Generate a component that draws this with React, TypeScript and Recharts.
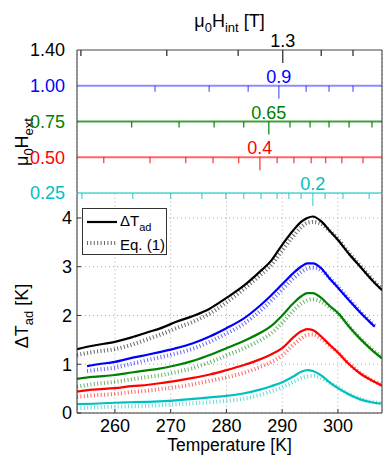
import React from "react"
import {
  ComposedChart,
  LineChart,
  Line,
  Scatter,
  XAxis,
  YAxis,
  CartesianGrid,
  ReferenceLine,
  Customized,
} from "recharts"

const FONT = "'Liberation Sans', Arial, sans-serif"

// temperature axis
const tMin = 253.2
const tMax = 307.9
const tempTicks = [260, 270, 280, 290, 300]

// top panel: external field rows (bottom to top) and internal field ticks
const hextLabels = ["0.25", "0.50", "0.75", "1.00", "1.40"]
const rowColors = ["#00bfbf", "#ff0000", "#008000", "#0000ff", "#000000"]
const hintLabels = ["0.2", "0.4", "0.65", "0.9", "1.3"]
const hintAt = [295.5, 286.0, 287.6, 289.4, 290.1]
const hintTicks025 = [254.1, 263.2, 270.0, 275.6, 279.9, 283.1, 286.2, 289.1, 291.2, 293.4, 295.5, 297.7, 300.9, 305.6]
const hintTicks050 = [258.0, 266.3, 272.7, 277.6, 282.2, 286.0, 289.1, 292.1, 295.2, 297.8, 300.7, 304.5]
const hintTicks075 = [263.0, 271.5, 277.8, 283.1, 287.6, 291.4, 295.0, 298.4, 302.0, 306.1]
const hintTicks100 = [267.2, 276.9, 283.9, 289.4, 294.3, 298.4, 302.7]
const hintTicks140 = [253.9, 269.3, 282.1, 290.1, 297.0, 302.7]
const hintRows = [hintTicks025, hintTicks050, hintTicks075, hintTicks100, hintTicks140]

// bottom panel: adiabatic temperature change
const temps = [253.2, 256, 260, 263, 266, 268, 271, 274, 277, 280, 283, 286, 288, 290, 292, 293.5, 294.5, 295.5, 297, 298.5, 300, 302, 304, 306, 307.9]
const tempsBlue = [255, 257, 260, 263, 266, 268, 271, 274, 277, 280, 283, 286, 288, 290, 292, 293.5, 294.5, 295.5, 297, 298.5, 300, 302, 304, 305.5, 306.6]

const dtBlack = [1.31, 1.38, 1.46, 1.55, 1.66, 1.73, 1.87, 1.99, 2.14, 2.36, 2.6, 2.9, 3.12, 3.45, 3.75, 3.93, 4.0, 4.03, 3.93, 3.74, 3.55, 3.26, 3.0, 2.74, 2.52]
const eqBlack = [1.19, 1.25, 1.31, 1.4, 1.52, 1.6, 1.74, 1.87, 2.04, 2.27, 2.53, 2.82, 3.03, 3.33, 3.63, 3.82, 3.9, 3.92, 3.88, 3.74, 3.57, 3.28, 3.02, 2.76, 2.54]
const dtBlue = [0.96, 1.0, 1.05, 1.13, 1.2, 1.25, 1.33, 1.43, 1.57, 1.74, 1.93, 2.2, 2.41, 2.64, 2.87, 3.01, 3.07, 3.07, 2.97, 2.76, 2.57, 2.31, 2.06, 1.89, 1.77]
const eqBlue = [0.86, 0.89, 0.93, 1.01, 1.09, 1.14, 1.22, 1.32, 1.46, 1.63, 1.82, 2.09, 2.3, 2.53, 2.76, 2.9, 2.96, 2.98, 2.93, 2.77, 2.59, 2.33, 2.08, 1.91, 1.79]
const dtGreen = [0.7, 0.74, 0.78, 0.83, 0.88, 0.91, 0.98, 1.07, 1.19, 1.33, 1.47, 1.64, 1.78, 2.0, 2.25, 2.4, 2.46, 2.46, 2.36, 2.2, 2.05, 1.77, 1.52, 1.3, 1.12]
const eqGreen = [0.54, 0.59, 0.64, 0.69, 0.74, 0.77, 0.84, 0.92, 1.04, 1.18, 1.32, 1.49, 1.63, 1.85, 2.1, 2.25, 2.31, 2.33, 2.28, 2.17, 2.04, 1.78, 1.53, 1.32, 1.14]
const dtRed = [0.44, 0.48, 0.51, 0.55, 0.58, 0.61, 0.66, 0.72, 0.79, 0.88, 0.98, 1.1, 1.2, 1.33, 1.55, 1.68, 1.72, 1.7, 1.57, 1.4, 1.24, 1.0, 0.81, 0.67, 0.56]
const eqRed = [0.33, 0.36, 0.39, 0.43, 0.46, 0.49, 0.53, 0.59, 0.66, 0.73, 0.82, 0.94, 1.04, 1.18, 1.4, 1.54, 1.6, 1.61, 1.52, 1.38, 1.24, 1.01, 0.82, 0.68, 0.57]
const dtCyan = [0.18, 0.19, 0.21, 0.22, 0.23, 0.24, 0.26, 0.29, 0.32, 0.35, 0.4, 0.48, 0.55, 0.63, 0.75, 0.85, 0.88, 0.86, 0.77, 0.63, 0.51, 0.38, 0.28, 0.22, 0.19]
const eqCyan = [0.1, 0.11, 0.13, 0.14, 0.15, 0.16, 0.18, 0.2, 0.22, 0.25, 0.29, 0.37, 0.44, 0.52, 0.64, 0.72, 0.75, 0.76, 0.72, 0.62, 0.52, 0.39, 0.29, 0.23, 0.2]

const zip = (ts: number[], vs: number[]) => ts.map((t, i) => ({ t, v: vs[i] }))

const curves = [
  { name: "cyan", color: "#00bfbf", dt: zip(temps, dtCyan), eq: zip(temps, eqCyan) },
  { name: "red", color: "#ff0000", dt: zip(temps, dtRed), eq: zip(temps, eqRed) },
  { name: "green", color: "#008000", dt: zip(temps, dtGreen), eq: zip(temps, eqGreen) },
  { name: "blue", color: "#0000ff", dt: zip(tempsBlue, dtBlue), eq: zip(tempsBlue, eqBlue) },
  { name: "black", color: "#000000", dt: zip(temps, dtBlack), eq: zip(temps, eqBlack) },
]

const rowOpacity = [0.5, 0.6, 0.75, 0.45, 0.7]
const DOT = "1 2.4"

function TopYTick(props: any) {
  const { x, y, payload } = props
  const i = payload.value
  return (
    <text x={x} y={y} dy="0.36em" textAnchor="end" fontSize={18} fontFamily={FONT} fill={rowColors[i]}>
      {hextLabels[i]}
    </text>
  )
}

function BottomYTick(props: any) {
  const { x, y, payload } = props
  return (
    <g>
      <text x={x} y={y} dy="0.36em" textAnchor="end" fontSize={18} fontFamily={FONT} fill="#000">
        {payload.value}
      </text>
      <line x1={x + 5} x2={x + 9} y1={y} y2={y} stroke="#333" />
    </g>
  )
}

function BottomXTick(props: any) {
  const { x, y, payload } = props
  return (
    <g>
      <text x={x} y={y} dy="0.62em" textAnchor="middle" fontSize={18} fontFamily={FONT} fill="#000">
        {payload.value}
      </text>
      <line x1={x} x2={x} y1={y - 8} y2={y - 12} stroke="#333" />
    </g>
  )
}

function HintTick(props: any) {
  const { cx, cy, payload } = props
  const p = payload || props
  const len = p.long ? 13 : 6
  const c = p.row === 4 ? "#333" : rowColors[p.row]
  return <line x1={cx} x2={cx} y1={cy} y2={cy + len} stroke={c} strokeOpacity={p.row === 4 ? 1 : rowOpacity[p.row] + 0.15} strokeWidth={1.3} />
}

function HintLabel(props: any) {
  const { cx, cy, payload } = props
  const p = payload || props
  return (
    <text x={cx} y={cy - 3} textAnchor="middle" fontSize={18} fontFamily={FONT} fill={rowColors[p.row]}>
      {p.label}
    </text>
  )
}

function LegendBox() {
  return (
    <g fontFamily={FONT}>
      <rect x={82.5} y={208.5} width={84} height={46} fill="#fff" stroke="#333" />
      <line x1={87} x2={117} y1={222} y2={222} stroke="#000" strokeWidth={2.2} />
      <text x={120} y={226} fontSize={15} fill="#000">
        ΔT<tspan fontSize={11} dy={5}>ad</tspan>
      </text>
      <line x1={87} x2={117} y1={243} y2={243} stroke="#000" strokeOpacity={0.6} strokeWidth={4} strokeDasharray={DOT} />
      <text x={120} y={250} fontSize={15} fill="#000">
        Eq. (1)
      </text>
    </g>
  )
}

export default function App() {
  const tickPoints = hintRows.map((ticks, row) => ticks.map((t) => ({ t, row, long: t === hintAt[row] })))
  const labelPoints = hintAt.map((t, row) => ({ t, row, label: hintLabels[row] }))

  return (
    <div style={{ position: "absolute", left: 0, top: 0, width: 390, height: 458, background: "#fff" }}>
      <div style={{ position: "absolute", left: 0, top: 0 }}>
        <ComposedChart width={390} height={212} margin={{ top: 0, right: 8, bottom: 19, left: 0 }}>
          <CartesianGrid horizontal={false} stroke="#aaa" strokeDasharray="1 3" />
          <XAxis
            orientation="top"
            type="number"
            dataKey="t"
            domain={[tMin, tMax]}
            ticks={tempTicks}
            allowDataOverflow
            tick={false}
            tickLine={false}
            axisLine={false}
            height={50}
            label={{
              content: (p: any) => {
                const vb = p.viewBox
                const cx = vb.x + vb.width / 2
                return (
                  <text x={cx} y={27} textAnchor="middle" fontSize={18} fontFamily={FONT} fill="#000">
                    μ<tspan fontSize={13} dy={5}>0</tspan>
                    <tspan dy={-5}>H</tspan>
                    <tspan fontSize={13} dy={5}>int</tspan>
                    <tspan dy={-5}> [T]</tspan>
                  </text>
                )
              },
            }}
          />
          <YAxis
            type="number"
            dataKey="row"
            domain={[0, 4]}
            ticks={[0, 1, 2, 3, 4]}
            interval={0}
            width={77}
            tickSize={4}
            tickMargin={8}
            tickLine={false}
            axisLine={{ stroke: "#333" }}
            tick={<TopYTick />}
            label={{
              content: () => (
                <text x={28} y={142} transform="rotate(-90 28 142)" textAnchor="middle" fontSize={18} fontFamily={FONT} fill="#000">
                  μ<tspan fontSize={13} dy={5}>0</tspan>
                  <tspan dy={-5}>H</tspan>
                  <tspan fontSize={13} dy={5}>ext</tspan>
                </text>
              ),
            }}
          />
          {hextLabels.map((_, row) =>
            row < 4 ? (
              <ReferenceLine key={row} y={row} stroke={rowColors[row]} strokeOpacity={rowOpacity[row]} strokeWidth={2} />
            ) : (
              <ReferenceLine key={row} y={row} stroke="#444" strokeWidth={1.2} />
            )
          )}
          <ReferenceLine x={tMax} stroke="#333" />
          {tickPoints.map((pts, row) => (
            <Scatter key={`tk${row}`} data={pts} dataKey="row" shape={<HintTick />} isAnimationActive={false} />
          ))}
          <Scatter data={labelPoints} dataKey="row" shape={<HintLabel />} isAnimationActive={false} />
        </ComposedChart>
      </div>
      <div style={{ position: "absolute", left: 0, top: 0 }}>
        <LineChart width={390} height={458} margin={{ top: 193.6, right: 8, bottom: 0, left: 0 }}>
          <CartesianGrid stroke="#aaa" strokeDasharray="1 3" />
          <XAxis
            type="number"
            dataKey="t"
            domain={[tMin, tMax]}
            ticks={tempTicks}
            allowDataOverflow
            height={45}
            tickLine={false}
            axisLine={{ stroke: "#333" }}
            tick={<BottomXTick />}
            label={{
              content: (p: any) => {
                const vb = p.viewBox
                return (
                  <text x={vb.x + vb.width / 2} y={451} textAnchor="middle" fontSize={17.5} fontFamily={FONT} fill="#000">
                    Temperature [K]
                  </text>
                )
              },
            }}
          />
          <YAxis
            type="number"
            domain={[0, 4.5]}
            ticks={[0, 1, 2, 3, 4]}
            interval={0}
            allowDataOverflow
            width={77}
            tickSize={4}
            tickMargin={1}
            tickLine={false}
            axisLine={{ stroke: "#333" }}
            tick={<BottomYTick />}
            label={{
              content: () => (
                <text x={28} y={316} transform="rotate(-90 28 316)" textAnchor="middle" fontSize={18} fontFamily={FONT} fill="#000">
                  ΔT<tspan fontSize={13} dy={5}>ad</tspan>
                  <tspan dy={-5}> [K]</tspan>
                </text>
              ),
            }}
          />
          <ReferenceLine x={tMax} stroke="#333" />
          {curves.map((c) => (
            <Line
              key={`eq-${c.name}`}
              data={c.eq}
              dataKey="v"
              type="monotone"
              stroke={c.color}
              strokeOpacity={0.6}
              strokeWidth={4}
              strokeDasharray={DOT}
              dot={false}
              isAnimationActive={false}
            />
          ))}
          {curves.map((c) => (
            <Line
              key={`dt-${c.name}`}
              data={c.dt}
              dataKey="v"
              type="monotone"
              stroke={c.color}
              strokeWidth={2.2}
              dot={false}
              isAnimationActive={false}
            />
          ))}
          <Customized component={LegendBox} />
        </LineChart>
      </div>
    </div>
  )
}
